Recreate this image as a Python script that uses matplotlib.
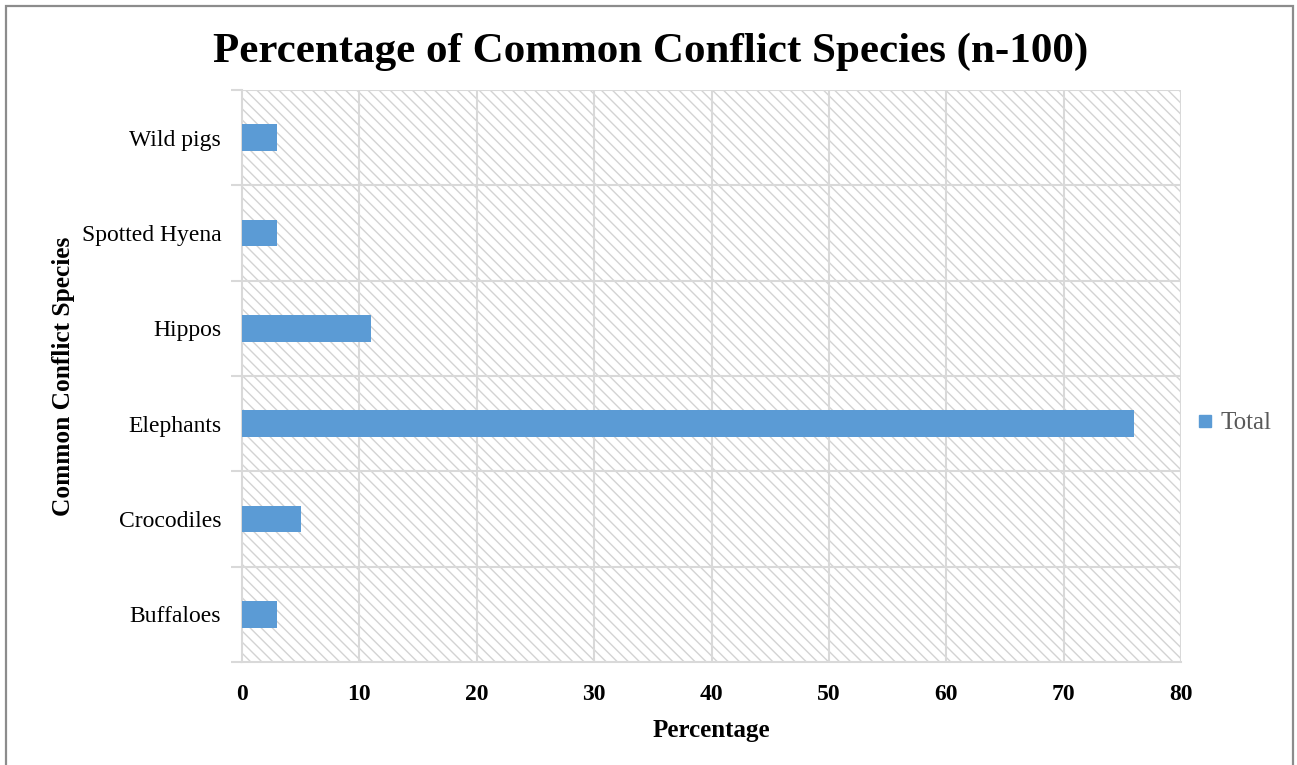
import matplotlib
matplotlib.use("Agg")
import matplotlib.pyplot as plt
from matplotlib.patches import Rectangle
from matplotlib.lines import Line2D
import numpy as np

# ---- data ----
species = ["Buffaloes", "Crocodiles", "Elephants", "Hippos", "Spotted Hyena", "Wild pigs"]
percent = [3, 5, 76, 11, 3, 3]
x_ticks = [0, 10, 20, 30, 40, 50, 60, 70, 80]

plt.rcParams.update({
    "font.family": "Liberation Serif",
    "hatch.linewidth": 1.0,
})

BAR = "#5B9BD5"
GRID = "#D9D9D9"

W, H = 1297, 765
fig = plt.figure(figsize=(W / 100, H / 100), dpi=100)
fig.patch.set_facecolor("white")

# outer frame (bottom edge runs off the canvas)
fig.add_artist(Rectangle((5.5 / W, -0.05), (1292.5 - 5.5) / W, 1.05 - 5.5 / H,
                         transform=fig.transFigure, fill=False,
                         edgecolor="#8C8C8C", linewidth=1.6))

left, right, top, bottom = 242, 1181, 90, 662
ax = fig.add_axes([left / W, 1 - bottom / H, (right - left) / W, (bottom - top) / H])
ax.set_facecolor("white")

# hatched plot area
ax.add_patch(Rectangle((0, 0), 1, 1, transform=ax.transAxes, facecolor="white",
                       edgecolor="#D3D3D3", hatch="\\\\\\", linewidth=0, zorder=0))

y = np.arange(len(species))
ax.barh(y, percent, height=0.28, color=BAR, zorder=3)

ax.set_xlim(0, 80)
ax.set_ylim(-0.5, len(species) - 0.5)

ax.set_xticks(x_ticks)
ax.set_xticklabels([str(t) for t in x_ticks], fontsize=17, fontweight="bold")
ax.tick_params(axis="x", length=0, pad=16)

ax.set_yticks(y)
ax.set_yticklabels(species, fontsize=17)
ax.tick_params(axis="y", which="major", length=0, pad=15)
ax.set_yticks(np.arange(-0.5, len(species), 1.0), minor=True)
ax.tick_params(axis="y", which="minor", length=8, width=1.5, color=GRID)

for xv in x_ticks[1:]:
    ax.axvline(xv, color=GRID, linewidth=1.5, zorder=1)
for yv in np.arange(0.5, len(species), 1.0):
    ax.axhline(yv, color=GRID, linewidth=1.5, zorder=1)

for side in ["top", "right"]:
    ax.spines[side].set_visible(False)
ax.spines["left"].set_color(GRID)
ax.spines["left"].set_linewidth(1.5)
ax.spines["bottom"].set_color(GRID)
ax.spines["bottom"].set_linewidth(1.5)

ax.set_xlabel("Percentage", fontsize=18, fontweight="bold", labelpad=10)
ax.set_ylabel("Common Conflict Species", fontsize=18.3, fontweight="bold", labelpad=5)

fig.text(651 / W, 1 - 52 / H, "Percentage of Common Conflict Species (n-100)",
         ha="center", va="center", fontsize=31, fontweight="bold")

handle = Line2D([0], [0], marker="s", linestyle="none", markersize=8.5,
                markerfacecolor=BAR, markeredgecolor=BAR)
fig.legend([handle], ["Total"], loc="center left",
           bbox_to_anchor=(1174 / W, 1 - 423 / H), frameon=False,
           fontsize=18, handlelength=0.7, handletextpad=0.25,
           labelcolor="#595959")

fig.savefig("out.png", dpi=100, facecolor="white")
